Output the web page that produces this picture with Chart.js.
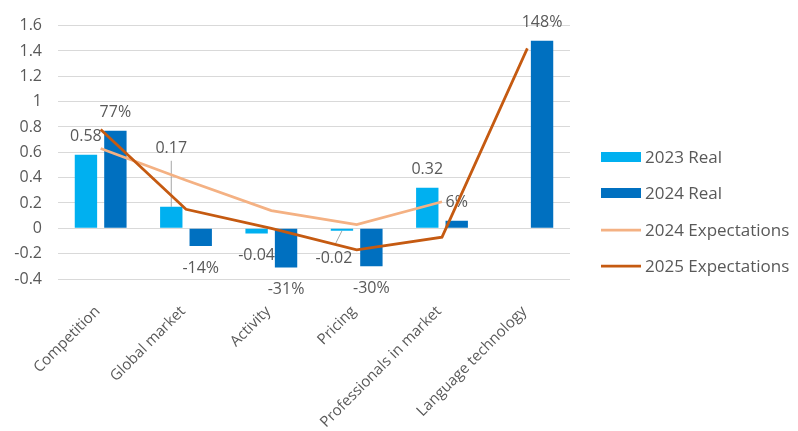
<!DOCTYPE html>
<html>
<head>
<meta charset="utf-8">
<title>Market indicators</title>
<script src="https://cdn.jsdelivr.net/npm/chart.js@4.4.1/dist/chart.umd.min.js"></script>
<style>
    html, body { margin: 0; padding: 0; background: #fff; }
    #wrap { width: 798px; height: 431px; position: relative; }
</style>
</head>
<body>
<div id="wrap"><canvas id="marketChart" width="798" height="431"></canvas></div>
<script>
// --- Data ---
const categories = ['Competition', 'Global market', 'Activity', 'Pricing', 'Professionals in market', 'Language technology'];
const real2023 = [0.58, 0.17, -0.04, -0.02, 0.32, null];
const real2024 = [0.77, -0.14, -0.31, -0.30, 0.06, 1.48];
const expect2024 = [0.63, 0.38, 0.14, 0.03, 0.21, null];
const expect2025 = [0.78, 0.15, 0.00, -0.17, -0.07, 1.42];
const yTicks = [-0.4, -0.2, 0, 0.2, 0.4, 0.6, 0.8, 1.0, 1.2, 1.4, 1.6];

// --- Look ---
const FONT = '"Open Sans", Lato, sans-serif';
const TEXT = '#595959';
const GRID = '#d9d9d9';
const COLORS = {
    real2023: '#00b0f0',
    real2024: '#0070c0',
    expect2024: '#f4b183',
    expect2025: '#c55a11'
};

// label nudges for the crowded spots: key = "dataset-index"
const labelNudge = {
    '0-1': { dy: -40, leader: true },
    '0-3': { dx: -8, dy: 6, leader: true }
};

const formatters = [
    v => v.toFixed(2),
    v => Math.round(v * 100) + '%'
];

// value labels on the bars
const barLabels = {
    id: 'barLabels',
    beforeDatasetsDraw(chart) {
        const ctx = chart.ctx;
        ctx.save();
        ctx.font = '16px ' + FONT;
        ctx.fillStyle = TEXT;
        ctx.textAlign = 'center';
        ctx.textBaseline = 'middle';
        [0, 1].forEach(di => {
            const meta = chart.getDatasetMeta(di);
            const values = chart.data.datasets[di].data;
            meta.data.forEach((bar, i) => {
                const v = values[i];
                if (v === null || v === undefined) return;
                const nudge = labelNudge[di + '-' + i] || {};
                const x = bar.x + (nudge.dx || 0);
                const edge = v >= 0 ? Math.min(bar.y, bar.base) : Math.max(bar.y, bar.base);
                const y = (v >= 0 ? edge - 18 : edge + 22) + (nudge.dy || 0);
                if (nudge.leader) {
                    ctx.strokeStyle = '#a6a6a6';
                    ctx.lineWidth = 1;
                    ctx.beginPath();
                    if (v >= 0) {
                        ctx.moveTo(bar.x, y + 12);
                        ctx.lineTo(bar.x, edge);
                    } else {
                        ctx.moveTo(bar.x, edge);
                        ctx.lineTo(x + 1, y - 14);
                    }
                    ctx.stroke();
                }
                ctx.fillText(formatters[di](v), x, y);
            });
        });
        ctx.restore();
    }
};

// slanted category names under the plot, ending at each category centre
const categoryLabels = {
    id: 'categoryLabels',
    afterDraw(chart) {
        const scale = chart.scales.x;
        const ctx = chart.ctx;
        ctx.save();
        ctx.font = '15px ' + FONT;
        ctx.fillStyle = TEXT;
        ctx.textAlign = 'right';
        ctx.textBaseline = 'middle';
        categories.forEach((name, i) => {
            const x = scale.getPixelForValue(i) - 3;
            const y = chart.chartArea.bottom + 30;
            ctx.save();
            ctx.translate(x, y);
            ctx.rotate(-Math.PI / 4);
            ctx.fillText(name, 0, 0);
            ctx.restore();
        });
        ctx.restore();
    }
};

// legend on the right
const sideLegend = {
    id: 'sideLegend',
    afterDraw(chart) {
        const ctx = chart.ctx;
        const x0 = chart.chartArea.right + 31;
        const rows = [157, 193, 230, 266];
        ctx.save();
        ctx.font = '17px ' + FONT;
        ctx.fillStyle = TEXT;
        ctx.textBaseline = 'middle';
        ctx.textAlign = 'left';
        chart.data.datasets.forEach((ds, i) => {
            const y = rows[i];
            if (ds.type === 'line') {
                ctx.strokeStyle = ds.borderColor;
                ctx.lineWidth = ds.borderWidth;
                ctx.beginPath();
                ctx.moveTo(x0, y);
                ctx.lineTo(x0 + 40, y);
                ctx.stroke();
            } else {
                ctx.fillStyle = ds.backgroundColor;
                ctx.fillRect(x0, y - 5, 40, 10);
            }
            ctx.fillStyle = TEXT;
            ctx.fillText(ds.label, x0 + 44, y + 1);
        });
        ctx.restore();
    }
};

const ctx = document.getElementById('marketChart').getContext('2d');
new Chart(ctx, {
    type: 'bar',
    data: {
        labels: categories,
        datasets: [
            { label: '2023 Real', data: real2023, backgroundColor: COLORS.real2023, order: 2 },
            { label: '2024 Real', data: real2024, backgroundColor: COLORS.real2024, order: 2 },
            {
                type: 'line', label: '2024 Expectations', data: expect2024,
                borderColor: COLORS.expect2024, borderWidth: 2.75, pointRadius: 0, tension: 0, order: 1
            },
            {
                type: 'line', label: '2025 Expectations', data: expect2025,
                borderColor: COLORS.expect2025, borderWidth: 2.75, pointRadius: 0, tension: 0, order: 0
            }
        ]
    },
    options: {
        responsive: false,
        animation: false,
        devicePixelRatio: 1,
        layout: { padding: { top: 19, right: 228, left: 0, bottom: 0 } },
        datasets: {
            bar: { categoryPercentage: 0.69, barPercentage: 0.76 }
        },
        plugins: {
            legend: { display: false },
            tooltip: { enabled: false }
        },
        scales: {
            x: {
                grid: { display: false, drawTicks: false },
                border: { display: false },
                ticks: { display: false },
                afterFit(scale) { scale.height = 152; }
            },
            y: {
                min: -0.4,
                max: 1.6,
                grid: { color: GRID, lineWidth: 1, drawTicks: false },
                border: { display: false },
                afterBuildTicks(scale) { scale.ticks = yTicks.map(v => ({ value: v })); },
                ticks: {
                    color: TEXT,
                    font: { family: FONT, size: 16 },
                    padding: 16,
                    callback: v => String(+v.toFixed(1))
                },
                afterFit(scale) { scale.width = 58; }
            }
        }
    },
    plugins: [barLabels, categoryLabels, sideLegend]
});
</script>
</body>
</html>
